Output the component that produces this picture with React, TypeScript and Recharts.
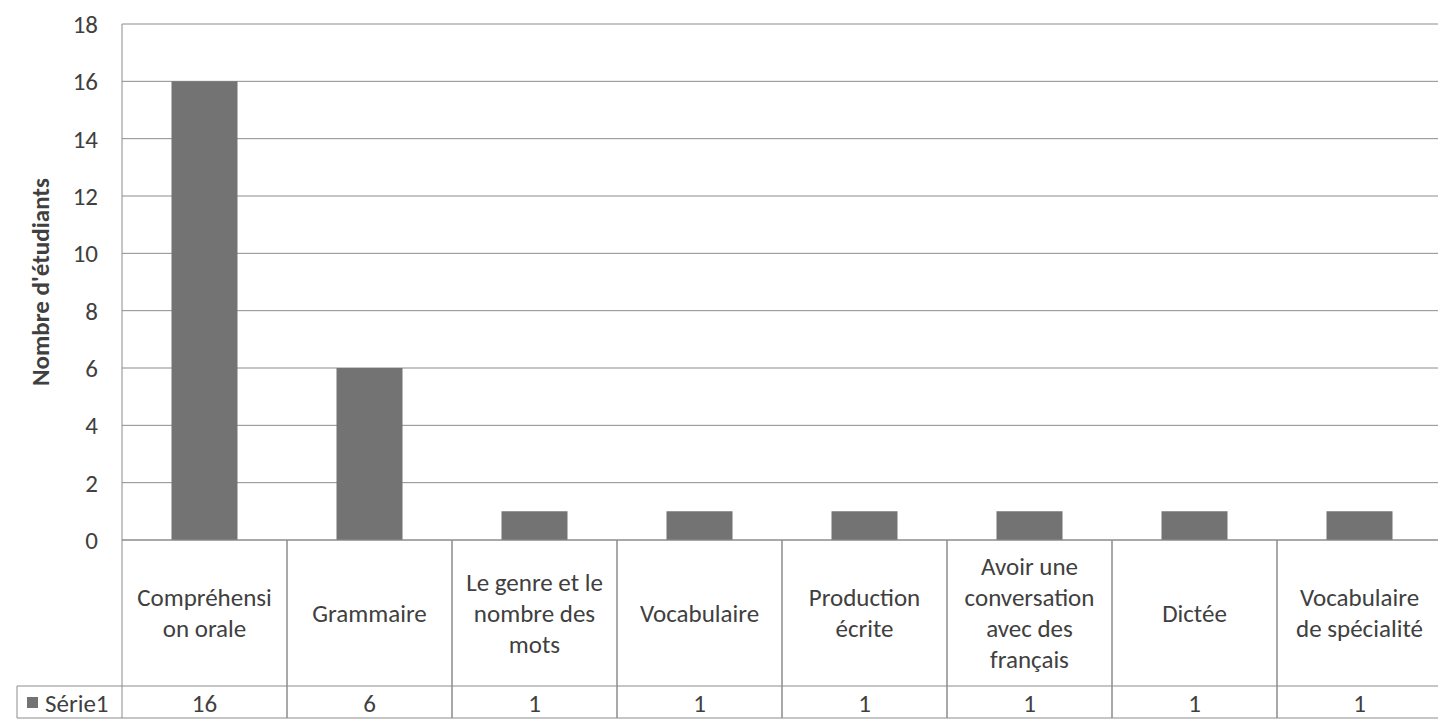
import React from 'react';
import { BarChart, Bar, XAxis, YAxis, CartesianGrid } from 'recharts';

const categories = [
  'Compréhension orale',
  'Grammaire',
  'Le genre et le nombre des mots',
  'Vocabulaire',
  'Production écrite',
  'Avoir une conversation avec des français',
  'Dictée',
  'Vocabulaire de spécialité',
];

// libellés tels qu'ils sont coupés dans le tableau de données
const categoryLines = [
  ['Compréhensi', 'on orale'],
  ['Grammaire'],
  ['Le genre et le', 'nombre des', 'mots'],
  ['Vocabulaire'],
  ['Production', 'écrite'],
  ['Avoir une', 'conversation', 'avec des', 'français'],
  ['Dictée'],
  ['Vocabulaire', 'de spécialité'],
];

const serie1 = [16, 6, 1, 1, 1, 1, 1, 1];
const yTicks = [0, 2, 4, 6, 8, 10, 12, 14, 16, 18];
const seriesName = 'Série1';

const data = categories.map((name, i) => ({ name, serie1: serie1[i], lines: categoryLines[i] }));

const CHART_W = 1442;
const CHART_H = 728;
const Y_AXIS_W = 122;
const MARGIN = { top: 24, right: 0, left: 0, bottom: 10 };
const PLOT_W = CHART_W - Y_AXIS_W - MARGIN.left - MARGIN.right;
const CAT_ROW_H = 146;
const VAL_ROW_H = 32;
const TABLE_H = CAT_ROW_H + VAL_ROW_H;

const FONT = 'Carlito, Calibri, Lato, sans-serif';
const FS = 25;
const TEXT = '#404040';
const LINE = '#8c8c8c';
const BAR = '#737373';

// une colonne du tableau de données sous l'axe
const TableTick = (props: any) => {
  const { x, y, payload } = props;
  const band = PLOT_W / categories.length;
  const left = x - band / 2;
  const right = x + band / 2;
  const item = data[payload.index];
  const lines: string[] = item ? item.lines : [String(payload.value)];
  const lh = 31;
  const midY = y + CAT_ROW_H / 2;
  const startY = midY - ((lines.length - 1) * lh) / 2;
  return (
    <g>
      <line x1={left} x2={left} y1={y} y2={y + TABLE_H} stroke={LINE} />
      <line x1={right} x2={right} y1={y} y2={y + TABLE_H} stroke={LINE} />
      <line x1={left} x2={right} y1={y + CAT_ROW_H} y2={y + CAT_ROW_H} stroke={LINE} />
      <line x1={left} x2={right} y1={y + TABLE_H} y2={y + TABLE_H} stroke={LINE} />
      {lines.map((l, i) => (
        <text
          key={i}
          x={x}
          y={startY + i * lh}
          textAnchor="middle"
          dominantBaseline="central"
          fill={TEXT}
          style={{ fontSize: FS, fontFamily: FONT }}
        >
          {l}
        </text>
      ))}
      <text
        x={x}
        y={y + CAT_ROW_H + VAL_ROW_H / 2 + 1}
        textAnchor="middle"
        dominantBaseline="central"
        fill={TEXT}
        style={{ fontSize: FS, fontFamily: FONT }}
      >
        {item ? item.serie1 : ''}
      </text>
      {payload.index === 0 && (
        <g>
          <line x1={17} x2={left} y1={y + CAT_ROW_H} y2={y + CAT_ROW_H} stroke={LINE} />
          <line x1={17} x2={left} y1={y + TABLE_H} y2={y + TABLE_H} stroke={LINE} />
          <line x1={17} x2={17} y1={y + CAT_ROW_H} y2={y + TABLE_H} stroke={LINE} />
          <rect x={27} y={y + CAT_ROW_H + 11} width={11} height={11} fill={BAR} />
          <text
            x={45}
            y={y + CAT_ROW_H + VAL_ROW_H / 2 + 1}
            dominantBaseline="central"
            fill={TEXT}
            style={{ fontSize: FS, fontFamily: FONT }}
          >
            {seriesName}
          </text>
        </g>
      )}
    </g>
  );
};

const YTitle = (props: any) => {
  const { viewBox } = props;
  const cx = 40;
  const cy = viewBox.y + viewBox.height / 2;
  return (
    <text
      x={cx}
      y={cy}
      transform={`rotate(-90, ${cx}, ${cy})`}
      textAnchor="middle"
      dominantBaseline="central"
      fill={TEXT}
      style={{ fontSize: 25, fontWeight: 700, fontFamily: FONT }}
    >
      Nombre d'étudiants
    </text>
  );
};

export default function App() {
  return (
    <div
      style={{
        position: 'absolute',
        left: 0,
        top: 0,
        width: 1438,
        height: 728,
        overflow: 'hidden',
        background: '#ffffff',
      }}
    >
      <BarChart width={CHART_W} height={CHART_H} data={data} margin={MARGIN} barCategoryGap="30%">
        <CartesianGrid vertical={false} stroke={LINE} strokeWidth={1} />
        <XAxis
          dataKey="name"
          height={TABLE_H}
          interval={0}
          tickLine={false}
          axisLine={{ stroke: LINE }}
          tickSize={0}
          tickMargin={0}
          tick={<TableTick />}
        />
        <YAxis
          width={Y_AXIS_W}
          domain={[0, 18]}
          ticks={yTicks}
          interval={0}
          tickLine={false}
          tickSize={0}
          tickMargin={24}
          axisLine={{ stroke: LINE }}
          tick={{ fill: TEXT, fontSize: FS, fontFamily: FONT }}
          label={{ content: <YTitle /> }}
        />
        <Bar dataKey="serie1" name={seriesName} fill={BAR} isAnimationActive={false} />
      </BarChart>
    </div>
  );
}
